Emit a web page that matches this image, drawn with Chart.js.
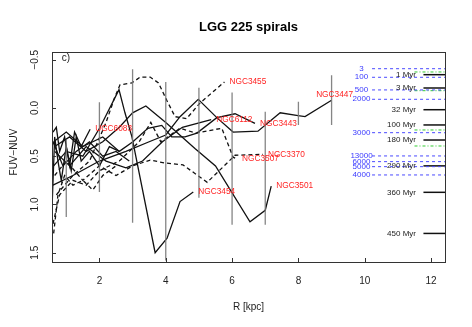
<!DOCTYPE html>
<html>
<head>
<meta charset="utf-8">
<script src="https://cdn.jsdelivr.net/npm/chart.js@4.4.1/dist/chart.umd.min.js"></script>
<style>
  html, body { margin: 0; padding: 0; background: #fff; }
  #wrap { width: 472px; height: 327px; position: relative; }
</style>
</head>
<body>
<div id="wrap"><canvas id="chart"></canvas></div>
<script>
// radial FUV-NUV profiles, R in kpc
const ngc3447R = [0.6, 1.2, 2.0, 2.8, 3.5, 4.0, 4.43, 4.98, 5.54, 6.03, 6.78, 7.45, 7.99, 8.2, 9.0];
const ngc3447C = [0.8, 0.7, 0.55, 0.45, 0.35, 0.28, 0.09, -0.09, 0.10, 0.25, 0.24, 0.05, 0.08, 0.09, -0.08];
const ngc3443R = [0.62, 1.0, 1.5, 2.1, 2.6, 3.01, 3.46, 3.88, 4.18, 4.58, 4.94, 5.54, 6.09, 6.69];
const ngc3443C = [0.35, 0.25, 0.4, 0.3, 0.45, 0.35, 0.21, 0.18, 0.30, 0.30, 0.26, 0.10, 0.06, 0.16];
const ngc6112R = [0.65, 1.1, 1.6, 2.2, 2.8, 3.3, 3.9, 4.5, 5.37];
const ngc6112C = [0.45, 0.6, 0.4, 0.55, 0.62, 0.55, 0.35, 0.2, 0.12];
const ngc3455R = [0.7, 1.2, 1.7, 2.2, 2.45, 2.62, 2.98, 3.23, 3.53, 3.78, 4.03, 4.28, 4.63, 5.03, 5.77];
const ngc3455C = [0.9, 0.7, 0.55, 0.15, -0.1, -0.24, -0.26, -0.32, -0.32, -0.26, -0.08, 0.09, 0.11, -0.05, -0.27];
const ngc3370R = [0.65, 1.0, 1.5, 2.0, 2.5, 3.0, 3.53, 3.98, 4.52, 5.25, 6.09, 6.93];
const ngc3370C = [0.7, 0.55, 0.75, 0.6, 0.7, 0.6, 0.54, 0.57, 0.59, 0.77, 0.49, 0.48];
const ngc3507R = [0.6, 0.8, 1.2, 1.6, 2.0, 2.6, 3.2, 3.55, 3.85, 4.43, 4.9, 5.69, 6.03, 6.15];
const ngc3507C = [1.2, 0.9, 0.75, 0.8, 0.65, 0.55, 0.35, 0.15, 0.35, 0.21, 0.26, 0.21, 0.51, 0.53];
const ngc3454R = [0.62, 1.0, 1.5, 2.02, 2.59, 2.77, 2.98, 3.68, 4.04, 4.43, 4.83];
const ngc3454C = [0.6, 0.45, 0.5, 0.2, -0.19, 0.05, 0.30, 1.50, 1.35, 0.97, 0.87];
const ngc3501R = [0.65, 1.1, 1.6, 2.1, 2.6, 3.0, 3.4, 4.0, 4.88, 5.5, 6.54, 7.0, 7.18];
const ngc3501C = [0.4, 0.3, 0.45, 0.35, 0.2, 0.05, -0.02, 0.15, 0.42, 0.6, 1.18, 1.06, 0.81];
const ugc6083R = [0.6, 0.7, 0.8, 0.95, 1.1, 1.25, 1.45, 1.72];
const ugc6083C = [0.25, 0.2, 0.45, 0.3, 0.6, 0.25, 0.4, 0.22];
// unlabelled profiles in the inner tangle
const extra1R = [0.58, 0.65, 0.75, 0.85, 1.0, 1.15, 1.3, 1.45, 1.7, 2.0, 2.3, 2.6];
const extra1C = [0.95, 0.3, 0.55, 0.75, 0.4, 0.65, 0.3, 0.55, 0.45, 0.6, 0.4, 0.45];
const extra2R = [0.6, 0.9, 1.3, 1.7, 2.1, 2.5, 2.9];
const extra2C = [0.35, 0.6, 0.45, 0.35, 0.5, 0.45, 0.55];
const extra3R = [0.62, 0.75, 0.95, 1.2, 1.5, 1.8, 2.1, 2.5];
const extra3C = [1.3, 0.9, 0.7, 0.8, 0.75, 0.85, 0.7, 0.6];

// error bars
const errR = [1, 2, 3, 4, 5, 6, 7, 8, 9];
const errMin = [0.33, -0.06, -0.40, -0.27, -0.21, -0.16, 0.04, -0.065, -0.34];
const errMax = [1.13, 0.87, 1.19, 1.58, 0.93, 1.21, 1.21, 0.176, 0.176];

// model colour grid on the right
const blueLabels = ['3', '100', '500', '2000', '3000', '13000', '6000', '5000', '4000'];
const blueVals = [-0.407, -0.318, -0.187, -0.090, 0.256, 0.497, 0.556, 0.608, 0.694];
const ageLabels = ['1 Myr', '3 Myr', '32 Myr', '100 Myr', '180 Myr', '290 Myr', '360 Myr', '450 Myr'];
const ageVals = [-0.345, -0.207, 0.018, 0.176, 0.332, 0.60, 0.874, 1.30];
const greenVals = [-0.373, -0.179, 0.228, 0.394];

const xTicks = [2, 4, 6, 8, 10, 12];
const yTicks = [-0.5, 0, 0.5, 1, 1.5];
const yTickLabels = ['\u22120.5', '0.0', '0.5', '1.0', '1.5'];

const X_MIN = 0.57, X_MAX = 12.42;

const profiles = [
  ['NGC3447', ngc3447R, ngc3447C],
  ['NGC3443', ngc3443R, ngc3443C],
  ['NGC6112', ngc6112R, ngc6112C],
  ['NGC3455', ngc3455R, ngc3455C],
  ['NGC3370', ngc3370R, ngc3370C],
  ['NGC3507', ngc3507R, ngc3507C],
  ['NGC3454', ngc3454R, ngc3454C],
  ['NGC3501', ngc3501R, ngc3501C],
  ['UGC6083', ugc6083R, ugc6083C],
  ['', extra1R, extra1C],
  ['', extra2R, extra2C],
  ['', extra3R, extra3C],
];
const dashedNames = ['NGC3455', 'NGC3370', 'NGC3507'];

const pts = (xs, ys) => xs.map((v, i) => ({ x: v, y: ys[i] }));
const seg = (x0, x1, v) => [{ x: x0, y: v }, { x: x1, y: v }];

const datasets = [];
errR.forEach((r, i) => datasets.push({
  data: [{ x: r, y: errMin[i] }, { x: r, y: errMax[i] }],
  borderColor: 'rgba(120,120,120,0.9)', borderWidth: 1.3
}));
profiles.forEach(([name, r, c], i) => datasets.push({
  label: name, data: pts(r, c),
  borderColor: '#111', borderWidth: 1.3,
  borderDash: (dashedNames.includes(name) || i === 11) ? [4, 3] : []
}));
blueVals.forEach(v => datasets.push({
  data: seg(10.22, X_MAX, v), borderColor: '#4a4aff', borderWidth: 1, borderDash: [3, 3]
}));
greenVals.forEach(v => datasets.push({
  data: seg(11.5, X_MAX, v), borderColor: '#33cc33', borderWidth: 1, borderDash: [3, 2, 1, 2]
}));
ageVals.forEach(v => datasets.push({
  data: seg(11.77, X_MAX, v), borderColor: '#111', borderWidth: 1.5
}));

const FONT = '"Liberation Sans", Arial, Helvetica, sans-serif';

const decor = {
  id: 'decor',
  afterDraw(chart) {
    const { ctx, chartArea: a, scales: { x, y } } = chart;
    ctx.save();
    ctx.strokeStyle = '#333';
    ctx.lineWidth = 1;
    ctx.strokeRect(a.left + 0.5, a.top + 0.5, a.right - a.left, a.bottom - a.top);
    ctx.beginPath();
    xTicks.forEach(v => {
      const px = Math.round(x.getPixelForValue(v)) + 0.5;
      ctx.moveTo(px, a.bottom); ctx.lineTo(px, a.bottom - 4);
    });
    yTicks.forEach(v => {
      const py = Math.round(y.getPixelForValue(v)) + 0.5;
      ctx.moveTo(a.left, py); ctx.lineTo(a.left + 4, py);
    });
    ctx.stroke();

    ctx.fillStyle = '#222';
    ctx.textBaseline = 'middle';
    ctx.textAlign = 'center';
    ctx.font = '10px ' + FONT;
    xTicks.forEach(v => ctx.fillText(String(v), x.getPixelForValue(v), 281));
    yTicks.forEach((v, i) => {
      ctx.save();
      ctx.translate(35, y.getPixelForValue(v));
      ctx.rotate(-Math.PI / 2);
      ctx.fillText(yTickLabels[i], 0, 0);
      ctx.restore();
    });
    ctx.fillText('R [kpc]', (a.left + a.right) / 2, 307);
    ctx.save();
    ctx.translate(14, 152);
    ctx.rotate(-Math.PI / 2);
    ctx.fillText('FUV\u2212NUV', 0, 0);
    ctx.restore();
    ctx.font = 'bold 13px ' + FONT;
    ctx.fillStyle = '#000';
    ctx.fillText('LGG 225 spirals', (a.left + a.right) / 2, 27);
    ctx.font = '10px ' + FONT;
    ctx.fillStyle = '#222';
    ctx.fillText('c)', 66, 58);

    // galaxy names at the end of each profile
    ctx.font = '8.3px ' + FONT;
    ctx.fillStyle = 'rgb(255,35,35)';
    profiles.forEach(([name, r, c]) => {
      if (!name) return;
      const px = x.getPixelForValue(r[r.length - 1]);
      const py = y.getPixelForValue(c[c.length - 1]);
      if (name === 'NGC3447') {
        ctx.textAlign = 'center';
        ctx.fillText(name, px + 3, py - 6);
      } else {
        ctx.textAlign = 'left';
        ctx.fillText(name, px + 5, py);
      }
    });

    // model grid labels
    ctx.font = '8px ' + FONT;
    ctx.textAlign = 'center';
    ctx.fillStyle = '#3a3aff';
    blueVals.forEach((v, i) => ctx.fillText(blueLabels[i], 361.5, y.getPixelForValue(v)));
    ctx.textAlign = 'right';
    ctx.fillStyle = '#222';
    ageVals.forEach((v, i) => ctx.fillText(ageLabels[i], 416, y.getPixelForValue(v)));
    ctx.restore();
  }
};

new Chart(document.getElementById('chart'), {
  type: 'line',
  data: { datasets },
  options: {
    responsive: true,
    maintainAspectRatio: false,
    animation: false,
    layout: { padding: { left: 52, right: 27, top: 52, bottom: 65 } },
    elements: { point: { radius: 0 }, line: { tension: 0 } },
    plugins: { legend: { display: false }, tooltip: { enabled: false } },
    scales: {
      x: { type: 'linear', min: X_MIN, max: X_MAX, display: false },
      y: { type: 'linear', min: -0.58, max: 1.596, reverse: true, display: false }
    }
  },
  plugins: [decor]
});
</script>
</body>
</html>
